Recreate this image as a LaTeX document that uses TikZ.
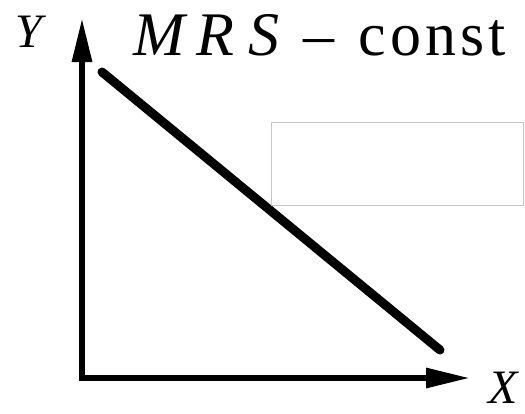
\documentclass[tikz,border=0pt]{standalone}
\usepackage{fontspec}
\setmainfont{Liberation Serif}
\usetikzlibrary{arrows.meta}
\tikzset{
  axis/.style={line width=6pt,-{Triangle[length=44pt,width=19pt]}},
  budget/.style={line width=9pt,line cap=round},
  lbl/.style={inner sep=0pt,font=\fontsize{48}{48}\selectfont\itshape}
}
\begin{document}
\begin{tikzpicture}[x=1pt,y=-1pt]
\useasboundingbox (0,0) rectangle (525,413);
% axes
\coordinate (O) at (82,378);
\coordinate (ytip) at (82,18);
\coordinate (xtip) at (470,378);
\draw[axis] (O) -- (ytip);
\draw[axis] ([xshift=-3pt]O) -- (xtip);
% line
\coordinate (a) at (102,72);
\coordinate (b) at (440,350);
\draw[budget] (a) -- (b);
% empty box
\draw[gray!45,line width=1pt] (271,122) rectangle (523,205);
% labels
\node[lbl,anchor=base] (ylab) at (29,47) {Y};
\node[lbl,anchor=base west] (xlab) at (488,403) {X};
\node[inner sep=0pt,anchor=base west,font=\fontsize{62}{62}\selectfont] (mrs) at (133,55)
  {\textit{M\hspace{12pt}R\hspace{14pt}S}\hspace{24pt}–\hspace{24pt}c\hspace{4pt}o\hspace{4pt}n\hspace{4pt}s\hspace{4pt}t};
\end{tikzpicture}
\end{document}
